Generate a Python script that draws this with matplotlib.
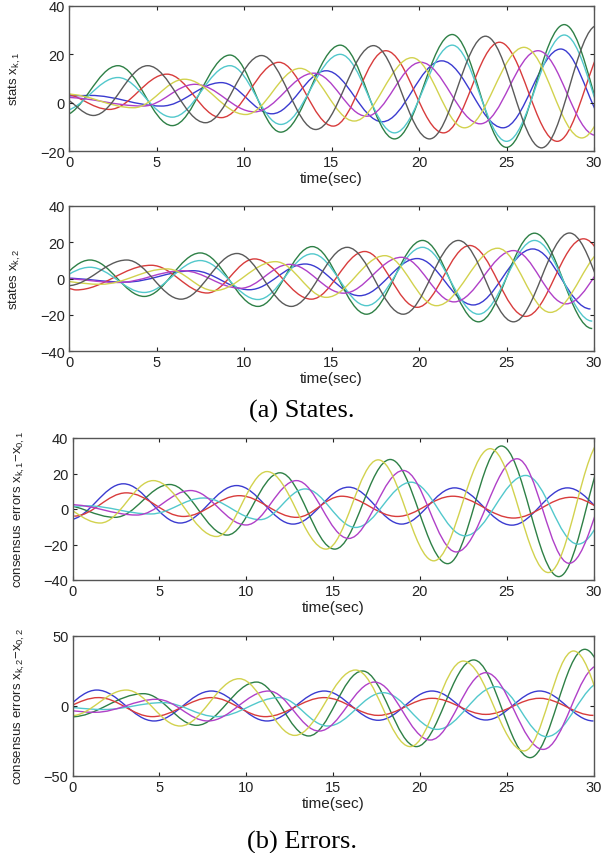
import matplotlib
matplotlib.use('Agg')
import matplotlib.pyplot as plt
from matplotlib.path import Path
from matplotlib.patches import PathPatch

# --- estados x_k,1 ---
s1_verde = [(-0.4, -5.5), (2.8, 15.3), (5.9, -9.5), (9.2, 19.7), (12.1, -12.2), (15.5, 23.8),
            (18.6, -15), (21.9, 28.2), (25.0, -18.5), (28.3, 32.3), (31.5, -20)]
s1_cian = [(-0.4, -3.5), (2.8, 10.4), (5.9, -6), (9.2, 15.3), (12.1, -9), (15.5, 20),
           (18.6, -12.5), (21.9, 23.8), (25.0, -16), (28.3, 28), (31.5, -18)]
s1_gris = [(-0.6, 2.5), (1.4, -5.3), (4.5, 15.3), (7.8, -8.3), (11.0, 19.5), (14.1, -11.1),
           (17.4, 23.6), (20.6, -15), (23.8, 27.5), (27.0, -18.7), (30.2, 32)]
s1_rojo = [(-0.5, 4), (2.3, -2.8), (5.6, 11.8), (8.7, -6.2), (12.0, 16.7), (15.1, -9.7),
           (18.1, 21.5), (21.4, -12.5), (24.6, 25), (27.9, -16), (31.1, 28)]
s1_amarillo = [(-0.2, 3.6), (3.7, -2.1), (6.6, 9.7), (10.1, -4.9), (13.2, 14.2), (16.3, -7.6),
               (19.6, 18.6), (22.6, -10.4), (26.0, 22.9), (29.3, -14.6), (32.5, 25)]
s1_magenta = [(-0.3, 2.2), (4.25, -1.4), (7.2, 7.6), (10.6, -3.8), (14.0, 12.2), (17.0, -5.6),
              (20.1, 16.7), (23.5, -8.75), (26.8, 21.5), (30.1, -13.5)]
s1_azul = [(0, 2.8), (1.2, 3.0), (5.3, -1.4), (8.7, 8.3), (11.6, -4.6), (14.7, 13.2),
           (17.9, -7.9), (21.3, 17.3), (24.8, -10.4), (28.1, 22.2), (31.1, -12)]

# --- estados x_k,2 ---
s2_verde = [(-1.9, -9), (1.2, 10.2), (4.3, -9.9), (7.5, 14.1), (10.8, -15.4), (13.9, 17.6),
            (17.0, -19.7), (20.2, 21), (23.4, -23.9), (26.6, 25), (29.9, -27.6)]
s2_cian = [(-1.8, -5), (1.2, 6.2), (4.3, -7.7), (7.5, 9.9), (10.8, -11.6), (13.9, 13.6),
           (17.0, -15), (20.2, 17.2), (23.4, -19.7), (26.6, 21), (29.9, -23.5)]
s2_gris = [(-0.1, -4), (3.3, 10.2), (6.4, -11.4), (9.6, 13.8), (12.7, -15.4), (15.9, 17.2),
           (19.1, -19.7), (22.25, 21), (25.4, -23.9), (28.6, 25.1), (31.8, -27)]
s2_rojo = [(0, -5.6), (0.4, -6.3), (4.7, 7.3), (7.9, -8), (10.6, 10.8), (13.85, -11.4),
           (16.9, 14.9), (19.9, -15.9), (22.9, 18.2), (26.1, -20.9), (29.4, 21.9), (32.6, -23)]
s2_amarillo = [(-1.5, -0.5), (1.8, -3.2), (5.6, 5.3), (8.3, -6.7), (11.8, 9.3), (14.7, -10.4),
               (18.05, 12.6), (21.0, -15), (24.5, 16.7), (27.5, -18.7), (30.9, 18)]
s2_magenta = [(-0.5, 0), (2.8, -2.2), (6.5, 4.3), (9.8, -5.4), (12.6, 7.8), (15.7, -8.1),
              (19.0, 11.7), (22.0, -12.9), (25.4, 15.4), (28.4, -14), (31.7, 17)]
s2_azul = [(-0.3, 0.2), (3.2, -2), (7.1, 4.3), (10.3, -6.2), (13.5, 8.0), (16.6, -9.5),
           (19.9, 11), (23.1, -14.6), (26.5, 16.3), (29.8, -16.8)]

# --- errores x_k,1 - x_0,1 ---
e1_azul = [(-0.2, -6), (2.93, 14.2), (6.2, -7.9), (9.45, 13.2), (12.7, -8.5), (15.9, 12.3),
           (18.95, -8.5), (22.0, 11.9), (25.3, -9.1), (28.5, 11.9), (31.7, -9)]
e1_rojo = [(0.1, -4), (3.1, 9.1), (6.4, -4.2), (9.6, 7.5), (12.9, -4.7), (15.5, 7.2),
           (18.7, -4.2), (21.9, 7.2), (25.4, -5.1), (28.7, 6.6), (31.8, -5)]
e1_amarillo = [(-1.2, 3.5), (1.6, -7.9), (4.65, 16), (8.3, -15.5), (11.2, 21.1), (14.6, -22.6),
               (17.6, 27.7), (20.8, -29.2), (24.05, 34), (27.4, -35.8), (30.6, 40)]
e1_verde = [(-0.7, 2.5), (2.45, -4.7), (5.6, 13.8), (8.9, -14.7), (11.95, 20.4), (15.1, -22.6),
            (18.3, 27.9), (21.6, -30.8), (24.7, 35.5), (28.0, -38.1), (31.2, 40)]
e1_magenta = [(-0.2, 2.5), (3.7, -3.4), (6.8, 10.4), (10.0, -9), (12.9, 16), (15.9, -16.6),
              (19.05, 21.7), (22.1, -24.2), (25.6, 28.3), (28.6, -30.6), (31.8, 30)]
e1_cian = [(0, 1.5), (0.8, 1.8), (4.5, -2.8), (7.55, 6.2), (10.8, -6), (13.4, 11.3), (16.3, -10.4),
           (19.5, 15.1), (22.6, -15.1), (26.1, 18.9), (29.1, -19.8), (32.3, 20)]

# --- errores x_k,2 - x_0,2 ---
e2_azul = [(-1.7, -10), (1.4, 11.4), (4.7, -10.7), (8.0, 10.7), (11.2, -10.7), (14.5, 10.7),
           (17.6, -10.2), (20.7, 10.7), (23.8, -10), (26.9, 10.7), (30.0, -10.7)]
e2_rojo = [(-1.7, -6), (1.5, 6), (4.6, -7.6), (8.0, 6), (11.1, -7.6), (14.5, 6),
           (17.6, -6.7), (20.7, 5.5), (23.8, -6), (26.9, 5.5), (30.0, -6.7)]
e2_amarillo = [(-0.1, -7), (3.1, 11.4), (6.2, -14.3), (9.6, 19.5), (12.8, -21), (16.3, 25.7),
               (19.45, -29), (22.5, 32.1), (26.0, -32.1), (28.85, 39.3), (32.0, -40)]
e2_verde = [(-0.1, -7.8), (4.1, 8.8), (7.15, -13.8), (10.6, 17.1), (13.6, -21.4), (16.7, 25),
            (19.8, -29), (23.1, 32.9), (26.35, -36.9), (29.5, 40.5), (32.7, -40)]
e2_magenta = [(-1.8, -1.5), (1.3, -4.5), (4.85, 4.8), (7.8, -10.7), (11.3, 10.7), (14.2, -17.9),
              (17.4, 17.1), (20.6, -24.3), (23.8, 23.8), (27.1, -31), (30.3, 29)]
e2_cian = [(-1.5, 0), (1.8, -2.5), (5.2, 2.4), (8.3, -7.6), (11.9, 6), (14.7, -14.3),
           (17.9, 9.5), (21.0, -16.7), (24.4, 13.8), (27.3, -21.9), (30.6, 18)]

azul = '#3b3bd0'
verde = '#2e8046'
rojo = '#d83c3c'
cian = '#52c8cc'
magenta = '#b040c8'
amarillo = '#d2d24e'
gris = '#5a5a5a'

plt.rcParams['font.family'] = ['Liberation Sans', 'DejaVu Sans']
plt.rcParams['mathtext.fontset'] = 'custom'
plt.rcParams['mathtext.rm'] = 'Liberation Sans'
plt.rcParams['mathtext.it'] = 'Liberation Sans'
plt.rcParams['mathtext.default'] = 'regular'


def curva(ax, puntos, color):
    # curva suave entre extremos (tangente horizontal en cada extremo)
    verts = [puntos[0]]
    codes = [Path.MOVETO]
    for (t0, v0), (t1, v1) in zip(puntos[:-1], puntos[1:]):
        d = 0.3642 * (t1 - t0)
        verts += [(t0 + d, v0), (t1 - d, v1), (t1, v1)]
        codes += [Path.CURVE4] * 3
    ax.add_patch(PathPatch(Path(verts, codes), fill=False, edgecolor=color, lw=1.0))


def caja(izq, arriba, der, abajo):
    return [izq / 604, 1 - abajo / 854, (der - izq) / 604, (abajo - arriba) / 854]


def estilo(ax, yticks, ylabel):
    ax.set_xlim(0, 30)
    ax.set_ylim(yticks[0], yticks[-1])
    ax.set_xticks([0, 5, 10, 15, 20, 25, 30])
    ax.set_yticks(yticks)
    ax.tick_params(direction='in', top=True, right=True, length=3, width=0.8,
                   labelsize=10.5, pad=3, colors='#222222')
    for s in ax.spines.values():
        s.set_color('#555555')
        s.set_linewidth(1.0)
    ax.set_xlabel('time(sec)', fontsize=11, color='#222222')
    ax.xaxis.set_label_coords(0.5, -0.14)
    ax.set_ylabel(ylabel, fontsize=9.5, color='#222222')
    ax.yaxis.set_label_coords(-0.087, 0.5)


fig = plt.figure(figsize=(6.04, 8.54), dpi=100)

ax1 = fig.add_axes(caja(69, 7, 594, 152))
for pts, c in [(s1_azul, azul), (s1_verde, verde), (s1_rojo, rojo), (s1_cian, cian),
               (s1_magenta, magenta), (s1_amarillo, amarillo), (s1_gris, gris)]:
    curva(ax1, pts, c)
estilo(ax1, [-20, 0, 20, 40], r'stats x$_{k,1}$')

ax2 = fig.add_axes(caja(69, 207, 594, 352))
for pts, c in [(s2_azul, azul), (s2_verde, verde), (s2_rojo, rojo), (s2_cian, cian),
               (s2_magenta, magenta), (s2_amarillo, amarillo), (s2_gris, gris)]:
    curva(ax2, pts, c)
estilo(ax2, [-40, -20, 0, 20, 40], r'states x$_{k,2}$')

ax3 = fig.add_axes(caja(72.5, 439, 593.5, 581))
for pts, c in [(e1_azul, azul), (e1_verde, verde), (e1_rojo, rojo), (e1_cian, cian),
               (e1_magenta, magenta), (e1_amarillo, amarillo)]:
    curva(ax3, pts, c)
estilo(ax3, [-40, -20, 0, 20, 40], r'consensus errors x$_{k,1}$$-$x$_{0,1}$')

ax4 = fig.add_axes(caja(72.5, 637, 593.5, 777))
for pts, c in [(e2_azul, azul), (e2_verde, verde), (e2_rojo, rojo), (e2_cian, cian),
               (e2_magenta, magenta), (e2_amarillo, amarillo)]:
    curva(ax4, pts, c)
estilo(ax4, [-50, 0, 50], r'consensus errors x$_{k,2}$$-$x$_{0,2}$')

fig.text(0.5, 1 - 411 / 854, '(a) States.', ha='center', va='center',
         family='Liberation Serif', fontsize=19)
fig.text(0.5, 1 - 842 / 854, '(b) Errors.', ha='center', va='center',
         family='Liberation Serif', fontsize=19)

fig.savefig('out.png', dpi=100)
